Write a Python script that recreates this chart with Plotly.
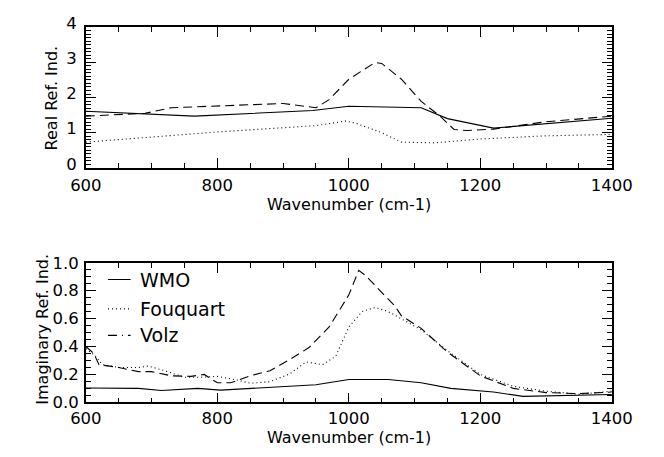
import plotly.graph_objects as go

# ---- Real refractive index (top panel) ----
wmo_re_x = [600, 765, 945, 1000, 1110, 1150, 1220, 1400]
wmo_re_y = [1.61, 1.47, 1.63, 1.75, 1.71, 1.40, 1.13, 1.41]

fou_re_x = [600, 800, 950, 995, 1010, 1050, 1080, 1130, 1200, 1300, 1400]
fou_re_y = [0.73, 1.02, 1.20, 1.33, 1.27, 1.00, 0.73, 0.71, 0.82, 0.91, 0.95]

volz_re_x = [600, 690, 730, 900, 950, 970, 1000, 1040, 1050, 1080, 1110, 1140, 1160, 1180, 1220, 1300, 1400]
volz_re_y = [1.47, 1.55, 1.71, 1.83, 1.71, 1.94, 2.52, 3.00, 2.97, 2.52, 1.89, 1.45, 1.09, 1.06, 1.10, 1.31, 1.47]

# ---- Imaginary refractive index (bottom panel) ----
wmo_im_x = [600, 680, 715, 770, 805, 900, 950, 1000, 1060, 1110, 1155, 1220, 1265, 1400]
wmo_im_y = [0.103, 0.10, 0.085, 0.10, 0.088, 0.11, 0.126, 0.164, 0.164, 0.14, 0.10, 0.074, 0.043, 0.056]

fou_im_x = [600, 615, 625, 650, 680, 695, 720, 750, 775, 800, 830, 850, 880, 910, 935, 960, 980,
            1000, 1020, 1040, 1060, 1080, 1110, 1150, 1200, 1250, 1300, 1350, 1400]
fou_im_y = [0.385, 0.33, 0.27, 0.25, 0.25, 0.26, 0.227, 0.18, 0.18, 0.186, 0.16, 0.137, 0.148, 0.204, 0.29, 0.27, 0.33,
            0.54, 0.65, 0.68, 0.65, 0.60, 0.52, 0.37, 0.20, 0.115, 0.08, 0.058, 0.08]

volz_im_x = [600, 612, 620, 650, 680, 700, 730, 760, 780, 800, 820, 850, 880, 910, 940, 970,
             1000, 1015, 1025, 1050, 1070, 1080, 1110, 1150, 1200, 1250, 1300, 1350, 1400]
volz_im_y = [0.40, 0.35, 0.27, 0.25, 0.22, 0.22, 0.19, 0.186, 0.20, 0.14, 0.14, 0.19, 0.227, 0.306, 0.395, 0.54,
             0.77, 0.946, 0.91, 0.79, 0.69, 0.62, 0.53, 0.36, 0.19, 0.10, 0.07, 0.063, 0.074]

legend_names = ["WMO", "Fouquart", "Volz"]
legend_y = [0.88, 0.67, 0.48]

FONT = "DejaVu Sans"
SOLID = "solid"
DOT = "1px,3px"
DASH = "9px,5px"
DASHDOT = "9px,5px,1px,5px"

fig = go.Figure()
line_w = 1.1
for x, y, d in [(wmo_re_x, wmo_re_y, SOLID), (fou_re_x, fou_re_y, DOT), (volz_re_x, volz_re_y, DASH)]:
    fig.add_trace(go.Scatter(x=x, y=y, mode="lines", line=dict(color="black", width=line_w, dash=d),
                             showlegend=False, xaxis="x", yaxis="y"))
for x, y, d in [(wmo_im_x, wmo_im_y, SOLID), (fou_im_x, fou_im_y, DOT), (volz_im_x, volz_im_y, DASH)]:
    fig.add_trace(go.Scatter(x=x, y=y, mode="lines", line=dict(color="black", width=line_w, dash=d),
                             showlegend=False, xaxis="x2", yaxis="y2"))

W, H = 664, 457
xdom = [74 / W, 631 / W]
ydom1 = [1 - 163 / H, 1 - 15 / H]
ydom2 = [1 - 410 / H, 1 - 263 / H]

common = dict(showline=True, linecolor="black", linewidth=1.6, mirror="ticks", ticks="inside",
              ticklen=10, tickwidth=1, tickcolor="black", showgrid=False, zeroline=False,
              tickfont=dict(family=FONT, size=16.5, color="black"))
xminor = dict(ticks="inside", ticklen=5, tickwidth=1, tickcolor="black", dtick=50, tick0=600, showgrid=False)
xcommon = dict(common, range=[600, 1400], tickmode="linear", tick0=600, dtick=200, minor=xminor)

fig.update_layout(
    width=W, height=H, margin=dict(l=0, r=0, t=0, b=0),
    paper_bgcolor="white", plot_bgcolor="white",
    xaxis=dict(xcommon, domain=xdom, anchor="y", ticklabelstandoff=2),
    yaxis=dict(common, domain=ydom1, anchor="x", range=[0, 4], tickmode="linear", tick0=0, dtick=1,
               ticklabelstandoff=4, ticklabelshift=-4,
               minor=dict(ticks="inside", ticklen=5, tickwidth=1, tickcolor="black", dtick=0.1, tick0=0, showgrid=False)),
    xaxis2=dict(xcommon, domain=xdom, anchor="y2", ticklabelstandoff=0),
    yaxis2=dict(common, domain=ydom2, anchor="x2", range=[0, 1], tickmode="linear", tick0=0, dtick=0.2,
                tickformat=".1f", ticklabelstandoff=2, ticklabelshift=0,
                minor=dict(ticks="inside", ticklen=5, tickwidth=1, tickcolor="black", dtick=0.05, tick0=0, showgrid=False)),
)

tfont = dict(family=FONT, size=16, color="black")
annots = [
    dict(text="Wavenumber (cm-1)", x=0.5 * (xdom[0] + xdom[1]), y=1 - 202 / H, xref="paper", yref="paper",
         showarrow=False, font=tfont, xanchor="center", yanchor="middle"),
    dict(text="Wavenumber (cm-1)", x=0.5 * (xdom[0] + xdom[1]), y=1 - 447 / H, xref="paper", yref="paper",
         showarrow=False, font=tfont, xanchor="center", yanchor="middle"),
    dict(text="Real Ref. Ind.", x=38 / W, y=1 - 89 / H, xref="paper", yref="paper", textangle=-90,
         showarrow=False, font=tfont, xanchor="center", yanchor="middle"),
    dict(text="Imaginary Ref. Ind.", x=28 / W, y=1 - 333 / H, xref="paper", yref="paper", textangle=-90,
         showarrow=False, font=tfont, xanchor="center", yanchor="middle"),
]
lfont = dict(family=FONT, size=19, color="black")
shapes = []
for name, ly, d in zip(legend_names, legend_y, [SOLID, DOT, DASHDOT]):
    shapes.append(dict(type="line", xref="x2 domain", yref="y2", x0=0.042, x1=0.085, y0=ly, y1=ly,
                       line=dict(color="black", width=1.1, dash=d)))
    annots.append(dict(text=name, xref="x2 domain", yref="y2", x=0.1, y=ly, showarrow=False,
                       font=lfont, xanchor="left", yanchor="middle"))
fig.update_layout(annotations=annots, shapes=shapes)

fig.write_html("out.html", config={"displayModeBar": False},
               post_script="document.body.style.margin='0';document.body.style.padding='0';")
